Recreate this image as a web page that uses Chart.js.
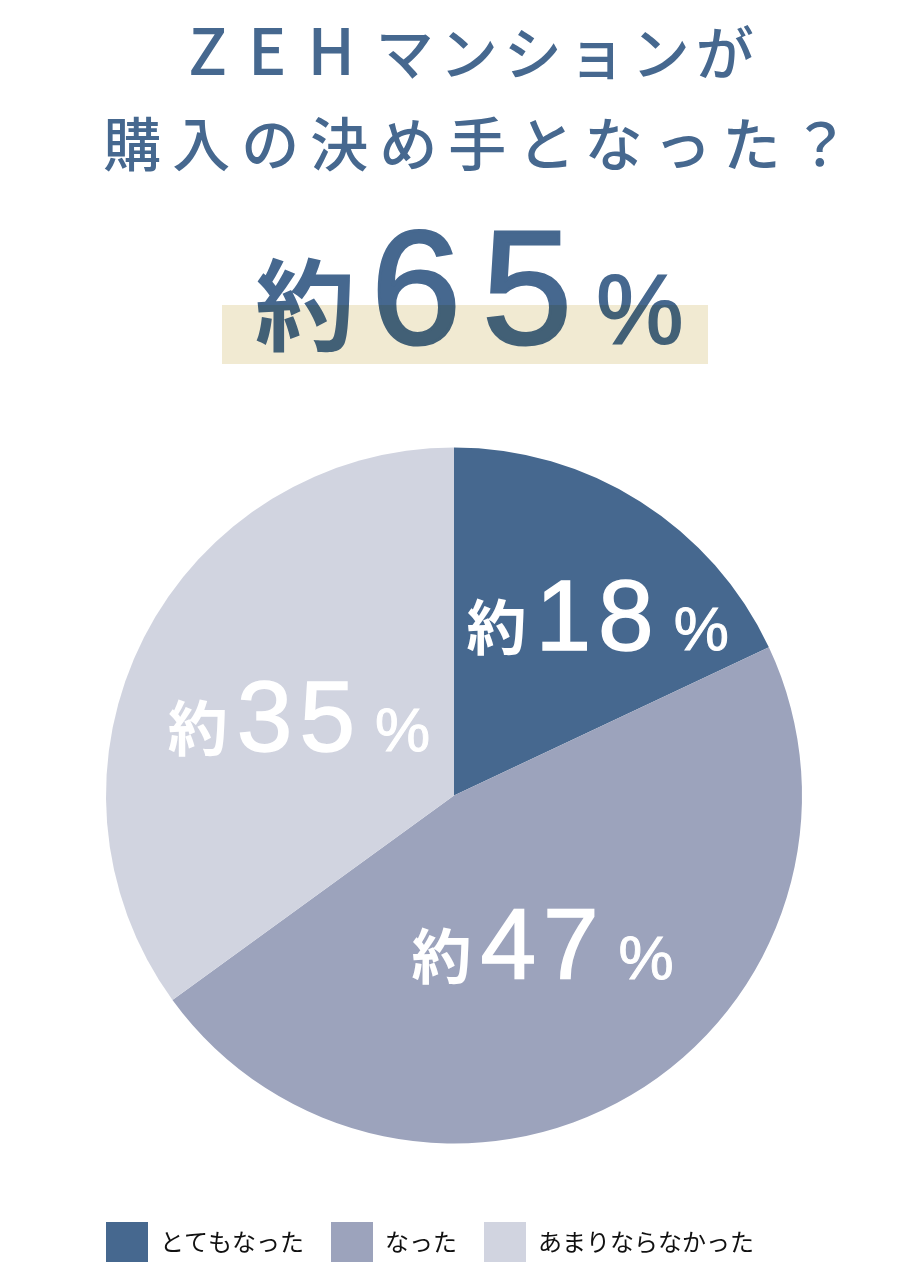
<!DOCTYPE html>
<html lang="ja">
<head>
<meta charset="utf-8">
<script src="https://cdn.jsdelivr.net/npm/chart.js@4.4.1/dist/chart.umd.min.js"></script>
<style>
  html, body { margin: 0; padding: 0; background: #fff; }
  body { width: 920px; height: 1280px; position: relative; overflow: hidden; }
  .title { position: absolute; left: 0; width: 920px; text-align: center; color: #46688f;
           font-family: "Noto Sans CJK JP", sans-serif; font-weight: 500; font-size: 58px;
           line-height: 1; white-space: nowrap; }
  #t1 { top: 15px; left: 14px; letter-spacing: 6px; }
  #t2 { top: 112px; left: 22px; letter-spacing: 11px; }
  .lat { font-size: 64px; letter-spacing: 21px; }
  #big { position: absolute; left: 255px; top: 206px; display: flex; align-items: baseline;
         color: #46688f; white-space: nowrap; }
  #big .yaku { font-family: "Noto Sans CJK JP", sans-serif; font-weight: 700; font-size: 100px; line-height: 1; margin-right: 16px; }
  #big .num { font-family: "Liberation Sans", Arial, sans-serif; font-size: 162px; line-height: 1;
              letter-spacing: 21px; -webkit-text-stroke: 3px #46688f; }
  #big .pct { font-family: "Liberation Sans", Arial, sans-serif; font-size: 98px; line-height: 1;
              margin-left: 3px; -webkit-text-stroke: 2px #46688f; }
  #hl { position: absolute; left: 222px; top: 305px; width: 486px; height: 59px;
        background: #f1ead2; mix-blend-mode: multiply; }
  #wrap { position: absolute; left: 0; top: 0; width: 920px; height: 1280px; }
</style>
</head>
<body>
<div class="title" id="t1"><span class="lat">ZEH</span>マンションが</div>
<div class="title" id="t2">購入の決め手となった？</div>
<div id="big"><span class="yaku">約</span><span class="num">65</span><span class="pct">%</span></div>
<div id="hl"></div>
<div id="wrap"><canvas id="pie"></canvas></div>

<script>
// data
const categories = ["とてもなった", "なった", "あまりならなかった"];
const shares = [18, 47, 35];
const sliceColors = ["#46688f", "#9ca3bc", "#d1d4e0"];

// "約18%" style labels inside each slice
function drawLabel(ctx, value, cx, cy) {
    const digits = String(value).split("");
    const yakuFont = '700 60px "Noto Sans CJK JP", sans-serif';
    const numFont = '100px "Liberation Sans", Arial, sans-serif';
    const pctFont = '62px "Liberation Sans", Arial, sans-serif';
    const digitGap = 7;

    ctx.save();
    ctx.fillStyle = "#fff";
    ctx.strokeStyle = "#fff";
    ctx.textBaseline = "alphabetic";
    ctx.textAlign = "left";

    ctx.font = yakuFont;
    const wYaku = ctx.measureText("約").width;
    ctx.font = numFont;
    const dWidths = digits.map(d => ctx.measureText(d).width);
    const wNum = dWidths.reduce((a, b) => a + b, 0) + digitGap * (digits.length - 1);
    ctx.font = pctFont;
    const wPct = ctx.measureText("%").width;

    const gap1 = 9, gap2 = 20;
    const total = wYaku + gap1 + wNum + gap2 + wPct;
    let x = cx - total / 2;
    const base = cy + 34;

    ctx.font = yakuFont;
    ctx.fillText("約", x, base);
    x += wYaku + gap1;

    ctx.font = numFont;
    ctx.lineWidth = 1.5;
    digits.forEach((d, i) => {
        ctx.fillText(d, x, base);
        ctx.strokeText(d, x, base);
        x += dWidths[i] + digitGap;
    });
    x += gap2 - digitGap;

    ctx.font = pctFont;
    ctx.lineWidth = 1;
    ctx.fillText("%", x, base);
    ctx.strokeText("%", x, base);
    ctx.restore();
}

const sliceLabels = {
    id: "sliceLabels",
    afterDatasetsDraw(chart) {
        const meta = chart.getDatasetMeta(0);
        meta.data.forEach((arc, i) => {
            const p = arc.getProps(["x", "y", "startAngle", "endAngle", "outerRadius"], true);
            // the small slice gets its label pushed outward a bit
            const mid = (p.startAngle + p.endAngle) / 2 + (i === 0 ? 0.11 : 0);
            const r = p.outerRadius * (i === 0 ? 0.66 : 0.5);
            drawLabel(chart.ctx, shares[i], p.x + Math.cos(mid) * r, p.y + Math.sin(mid) * r);
        });
    }
};

// legend sits a little left of the pie centre
const legendShift = {
    id: "legendShift",
    afterLayout(chart) {
        chart.legend.left -= 24;
        chart.legend.right -= 24;
    }
};

document.fonts.ready.then(function () {
    const ctx = document.getElementById("pie").getContext("2d");
    new Chart(ctx, {
        type: "pie",
        data: {
            labels: categories,
            datasets: [{
                data: shares,
                backgroundColor: sliceColors,
                borderWidth: 0
            }]
        },
        options: {
            responsive: true,
            maintainAspectRatio: false,
            animation: false,
            radius: 348,
            events: [],
            layout: { padding: { top: 396, bottom: 8, left: 0, right: 12 } },
            plugins: {
                tooltip: { enabled: false },
                legend: {
                    position: "bottom",
                    labels: {
                        boxWidth: 42,
                        boxHeight: 40,
                        padding: 27,
                        color: "#111",
                        font: { family: '"Noto Sans CJK JP", sans-serif', size: 24, weight: "400" }
                    }
                }
            }
        },
        plugins: [sliceLabels, legendShift]
    });
});
</script>
</body>
</html>
